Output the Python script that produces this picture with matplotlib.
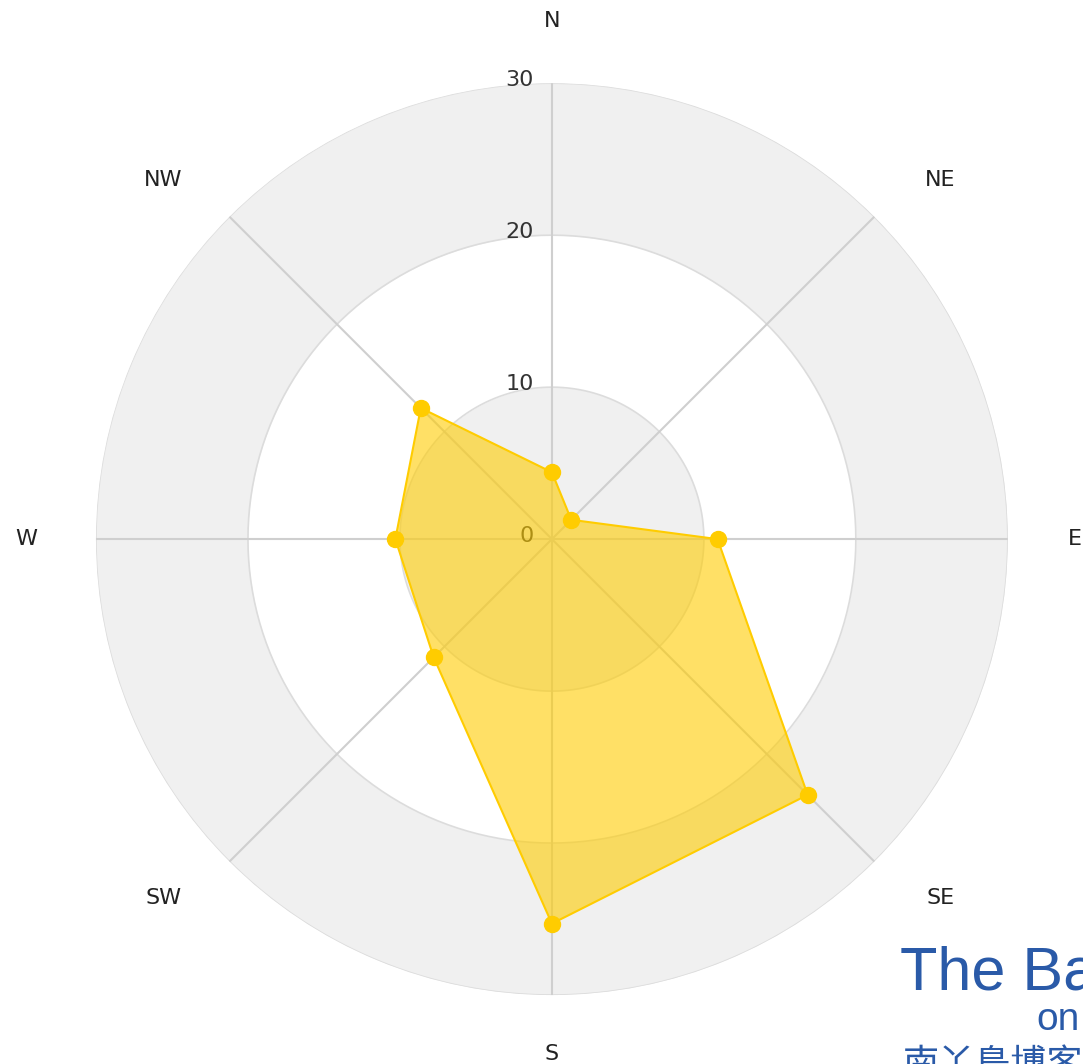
import numpy as np
import matplotlib
matplotlib.use("Agg")
import matplotlib.pyplot as plt

# wind directions and values
directions = ['N', 'NE', 'E', 'SE', 'S', 'SW', 'W', 'NW']
values = [4.4, 1.8, 10.9, 23.8, 25.3, 11.0, 10.3, 12.2]
radial_ticks = [0, 10, 20, 30]

W, H = 1083, 1064
fig = plt.figure(figsize=(W / 100, H / 100), dpi=100)
ax = fig.add_axes([0.0886, 0.0648, 0.842, 0.857], projection='polar')
ax.set_theta_zero_location('N')
ax.set_theta_direction(-1)
ax.set_ylim(0, 30)
ax.grid(False)
ax.set_xticks([])
ax.set_yticks([])
ax.spines['polar'].set_visible(False)
ax.patch.set_alpha(0)

# background bands
full = np.linspace(0, 2 * np.pi, 361)
band_colors = ['#f0f0f0', '#ffffff', '#f0f0f0']
for i, c in enumerate(band_colors):
    ax.fill_between(full, radial_ticks[i], radial_ticks[i + 1], color=c, lw=0, zorder=0)
for r in radial_ticks[1:]:
    ax.plot(full, np.full_like(full, r), color='#dcdcdc', lw=1.2, zorder=1)

# spokes
angles = np.deg2rad(np.arange(len(directions)) * 45)
for a in angles:
    ax.plot([a, a], [0, 30], color='#cfcfcf', lw=1.5, zorder=1)

# radial labels
for r in radial_ticks:
    ax.annotate(str(r), xy=(0, r), xytext=(-13, 2), textcoords='offset points',
                ha='right', va='center', fontsize=16, color='#333333', zorder=2)

# direction labels
label_r = [34.1, 34.8, 34.4, 34.8, 33.9, 34.8, 34.6, 34.8]
label_ang = [0, 47.3, 90, 132.7, 180, 227.3, 270, 312.7]
for d, a, r in zip(directions, label_ang, label_r):
    ax.text(np.deg2rad(a), r, d, ha='center', va='center', fontsize=16,
            color='#222222', clip_on=False)

# the data polygon
th = np.append(angles, angles[0])
vals = np.append(values, values[0])
ax.fill(th, vals, color='#ffcc00', alpha=0.6, lw=0, zorder=3)
ax.plot(th, vals, color='#ffcc00', lw=1.5, zorder=4)
ax.plot(angles, values, 'o', color='#ffcc00', ms=11.5, zorder=5)

# watermark (cut off by the picture edge, as in the source)
blue = '#2a5aa8'
fig.text(900 / W, 1 - 990 / H, 'The Banyan', fontsize=44, color=blue,
         family='Liberation Sans', ha='left', va='baseline')
fig.text(1080 / W, 1 - 1030 / H, 'on', fontsize=28, color=blue,
         family='Liberation Sans', ha='right', va='baseline')
fig.text(903 / W, 1 - 1075 / H, '南丫島博客', fontsize=26, color=blue,
         family='Noto Sans CJK TC', ha='left', va='baseline')

fig.savefig('out.png', dpi=100)
